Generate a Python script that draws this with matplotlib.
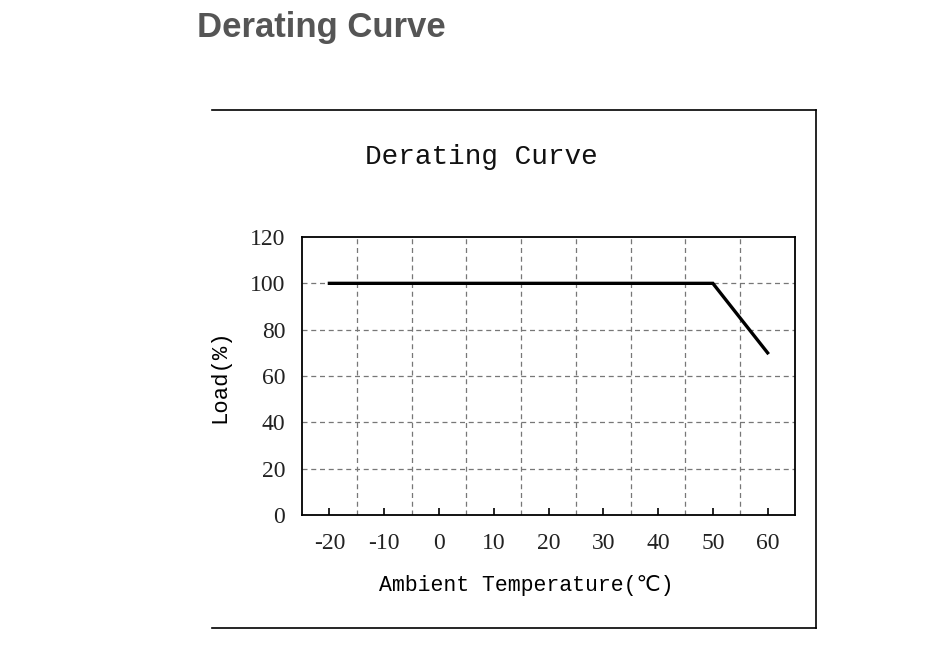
import matplotlib.pyplot as plt
from matplotlib.lines import Line2D

# Data
temperature = [-20, 50, 60]
load = [100, 100, 70]

x_ticks = [-20, -10, 0, 10, 20, 30, 40, 50, 60]
x_grid = [-15, -5, 5, 15, 25, 35, 45, 55]
y_ticks = [0, 20, 40, 60, 80, 100, 120]

mono = ['Liberation Mono', 'DejaVu Sans Mono', 'DejaVu Sans']
serif = ['Liberation Serif', 'DejaVu Serif']

fig = plt.figure(figsize=(9.44, 6.45), dpi=100)

# Page heading
fig.text(197 / 944, 1 - 28 / 645, 'Derating Curve', fontsize=25, fontweight='heavy',
         color='#555555', family='Liberation Sans', ha='left', va='center')

# Frame around the chart picture (top, right, bottom)
fx = lambda px: px / 944
fy = lambda py: 1 - py / 645
for xs, ys in [((212, 816), (110, 110)), ((816, 816), (110, 628)), ((212, 816), (628, 628))]:
    fig.add_artist(Line2D([fx(xs[0]), fx(xs[1])], [fy(ys[0]), fy(ys[1])],
                          color='black', lw=1.2, transform=fig.transFigure))

# Inner title
fig.text(481 / 944, 1 - 157 / 645, 'Derating Curve', fontsize=20, family=mono,
         color='#111111', ha='center', va='center')

ax = fig.add_axes([302 / 944, 1 - 515 / 645, 493 / 944, 278 / 645])

ax.plot(temperature, load, color='black', lw=2.4, solid_joinstyle='miter')

# Grid
for g in x_grid:
    ax.axvline(g, color='#777777', lw=0.9, ls=(0, (4, 3)), zorder=0)
for g in y_ticks[1:-1]:
    ax.axhline(g, color='#777777', lw=0.9, ls=(0, (4, 3)), zorder=0)

ax.set_xlim(-25, 65)
ax.set_ylim(0, 120)
ax.set_xticks(x_ticks)
ax.set_xticklabels([str(t) for t in x_ticks], family=serif, fontsize=17, color='#222222')
ax.set_yticks(y_ticks)
ax.set_yticklabels([str(t) for t in y_ticks], family=serif, fontsize=17, color='#222222')
ax.tick_params(axis='x', direction='in', length=5, width=1.2, pad=13)
ax.tick_params(axis='y', length=0, pad=12)

for s in ax.spines.values():
    s.set_linewidth(1.3)
    s.set_color('black')

ax.set_xlabel('Ambient Temperature(℃)', family=mono, fontsize=15.5)
ax.xaxis.set_label_coords(0.454, -0.215)
ax.set_ylabel('Load(%)', family=mono, fontsize=16, labelpad=14)

plt.savefig('out.png', dpi=100)
